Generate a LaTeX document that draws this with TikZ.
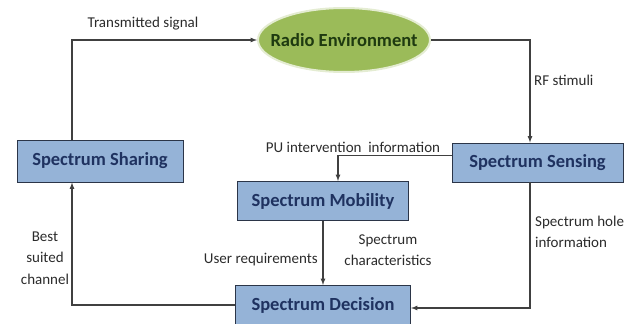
\documentclass[tikz,border=0pt]{standalone}
\usepackage{fontspec}
\setmainfont{Carlito}
\usetikzlibrary{shapes.geometric}
\definecolor{boxfill}{HTML}{95B3D7}
\definecolor{boxline}{HTML}{2B3548}
\definecolor{boxtext}{HTML}{1F3260}
\definecolor{envfill}{HTML}{9BBB59}
\definecolor{envline}{HTML}{E4ECD2}
\definecolor{envtext}{HTML}{1E3A10}
\definecolor{flowgray}{HTML}{404040}
\definecolor{labelgray}{HTML}{2B2B2B}

\begin{document}
\begin{tikzpicture}[
  x=1pt, y=-1pt,
  block_box/.style={rectangle, draw=boxline, fill=boxfill, line width=0.9pt, minimum width=171pt, minimum height=39pt, inner sep=0pt, text=boxtext, font=\bfseries\fontsize{18.5}{20}\selectfont},
  env_oval/.style={ellipse, draw=envline, fill=envfill, line width=2pt, minimum width=172pt, minimum height=64pt, inner sep=0pt, text=envtext, font=\bfseries\fontsize{18.5}{20}\selectfont},
  label_text/.style={text=labelgray, inner sep=0pt, align=center, font=\fontsize{15}{21.5}\selectfont},
  flow_line/.style={draw=flowgray, line width=1.2pt, -latex},
]
\useasboundingbox (0,0) rectangle (627,324);
\draw (344,40) node (radio_env) [env_oval] {\makebox[0pt]{Radio Environment}};
\draw (100,161) node (spec_sharing) [block_box, minimum width=166pt, minimum height=42pt] {Spectrum Sharing};
\draw (537.5,162.5) node (spec_sensing) [block_box] {Spectrum Sensing};
\draw (323,201) node (spec_mobility) [block_box] {Spectrum Mobility};
\draw (323,305) node (spec_decision) [block_box, minimum width=175pt] {Spectrum Decision};

\draw[flow_line] ([xshift=-28pt]spec_sharing.north) |- (radio_env.west);
\draw[flow_line] (radio_env.east) -| ([xshift=-7.5pt]spec_sensing.north);
\draw[flow_line] ([yshift=7pt]spec_sensing.west) -| ([xshift=15pt]spec_mobility.north);
\draw[flow_line] (spec_mobility.south) -- (spec_decision.north);
\draw[flow_line] ([xshift=-7.5pt]spec_sensing.south) |- ([yshift=-3pt]spec_decision.east);
\draw[flow_line] (spec_decision.west) -| ([xshift=-28pt]spec_sharing.south);

\draw (143,24) node (lbl_transmitted) [label_text] {Transmitted signal};
\draw (534,80) node (lbl_rf) [label_text, right] {RF stimuli};
\draw (353,147) node (lbl_pu) [label_text] {PU intervention\ \ information};
\draw (318,260) node (lbl_user) [label_text, left] {User requirements};
\draw (388,250) node (lbl_charac) [label_text] {Spectrum\\characteristics};
\draw (535,232) node (lbl_hole) [label_text, right, align=left] {Spectrum hole\\information};
\draw (45,258) node (lbl_best) [label_text] {Best\\suited\\channel};
\end{tikzpicture}
\end{document}
